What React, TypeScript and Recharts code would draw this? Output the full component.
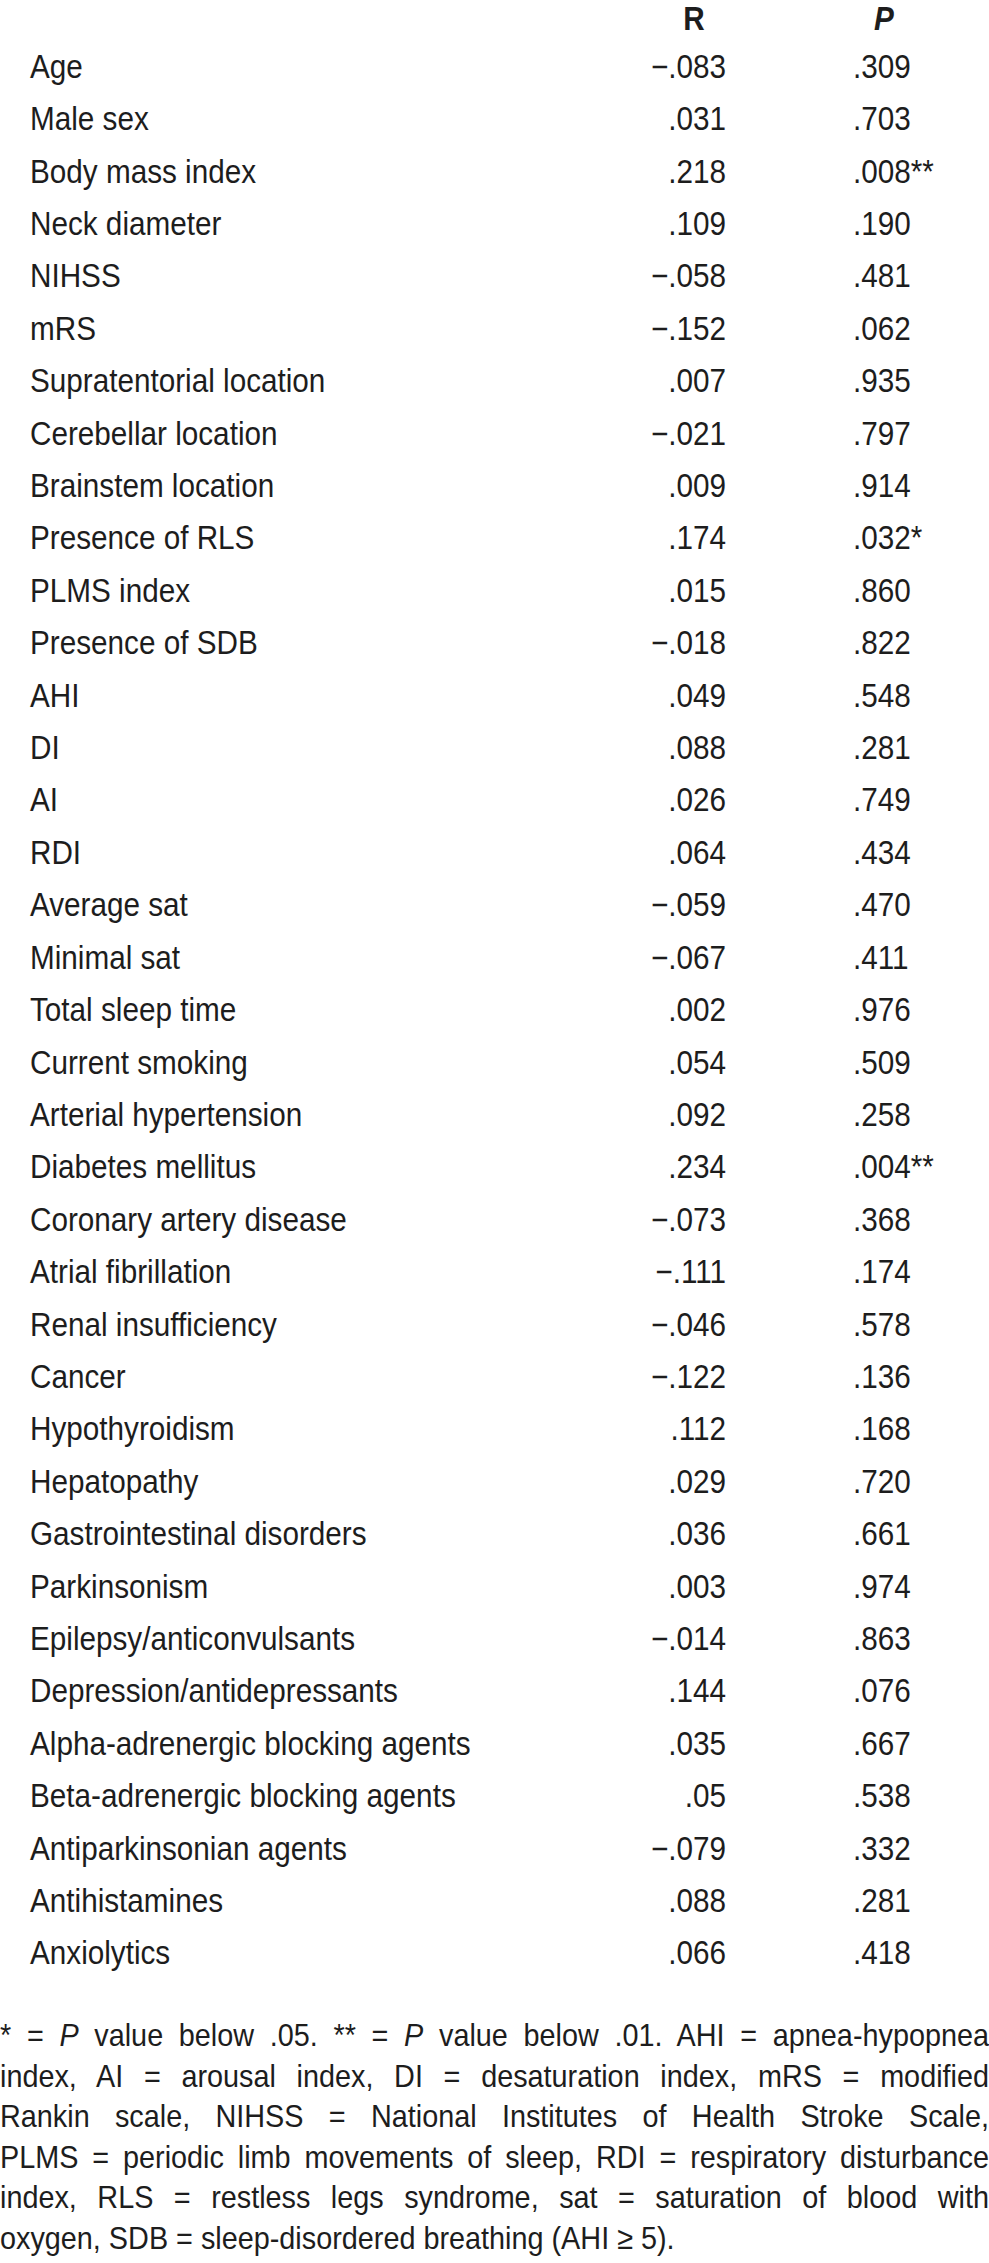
import { ComposedChart, Bar, XAxis, YAxis } from 'recharts';

// rows of the correlation table
const variables = [
  'Age',
  'Male sex',
  'Body mass index',
  'Neck diameter',
  'NIHSS',
  'mRS',
  'Supratentorial location',
  'Cerebellar location',
  'Brainstem location',
  'Presence of RLS',
  'PLMS index',
  'Presence of SDB',
  'AHI',
  'DI',
  'AI',
  'RDI',
  'Average sat',
  'Minimal sat',
  'Total sleep time',
  'Current smoking',
  'Arterial hypertension',
  'Diabetes mellitus',
  'Coronary artery disease',
  'Atrial fibrillation',
  'Renal insufficiency',
  'Cancer',
  'Hypothyroidism',
  'Hepatopathy',
  'Gastrointestinal disorders',
  'Parkinsonism',
  'Epilepsy/anticonvulsants',
  'Depression/antidepressants',
  'Alpha-adrenergic blocking agents',
  'Beta-adrenergic blocking agents',
  'Antiparkinsonian agents',
  'Antihistamines',
  'Anxiolytics',
];

const rValues = [
  -0.083, 0.031, 0.218, 0.109, -0.058, -0.152, 0.007, -0.021, 0.009, 0.174,
  0.015, -0.018, 0.049, 0.088, 0.026, 0.064, -0.059, -0.067, 0.002, 0.054,
  0.092, 0.234, -0.073, -0.111, -0.046, -0.122, 0.112, 0.029, 0.036, 0.003,
  -0.014, 0.144, 0.035, 0.05, -0.079, 0.088, 0.066,
];

const pValues = [
  0.309, 0.703, 0.008, 0.19, 0.481, 0.062, 0.935, 0.797, 0.914, 0.032, 0.86,
  0.822, 0.548, 0.281, 0.749, 0.434, 0.47, 0.411, 0.976, 0.509, 0.258, 0.004,
  0.368, 0.174, 0.578, 0.136, 0.168, 0.72, 0.661, 0.974, 0.863, 0.076, 0.667,
  0.538, 0.332, 0.281, 0.418,
];

const columnHeads = ['R', 'P'];

// _x_ marks italic text
const footnoteLines = [
  '* = _P_ value below .05. ** = _P_ value below .01. AHI = apnea-hypopnea',
  'index, AI = arousal index, DI = desaturation index, mRS = modified',
  'Rankin scale, NIHSS = National Institutes of Health Stroke Scale,',
  'PLMS = periodic limb movements of sleep, RDI = respiratory disturbance',
  'index, RLS = restless legs syndrome, sat = saturation of blood with',
  'oxygen, SDB = sleep-disordered breathing (AHI \u2265 5).',
];

const data = variables.map((name, i) => ({ name, r: rValues[i], p: pValues[i] }));

const FONT = "'Liberation Sans', Arial, Helvetica, sans-serif";
const SIZE = 33;
const SQUEEZE = 0.9;
const INK = '#1d1d1d';

const fmtR = (v: number) =>
  (v < 0 ? '\u2212' : '') + String(Math.abs(v)).replace(/^0/, '');

const fmtP = (v: number) =>
  v.toFixed(3).replace(/^0/, '') + (v < 0.01 ? '**' : v < 0.05 ? '*' : '');

function TableText(props: {
  x: number;
  y: number;
  anchor?: 'start' | 'middle' | 'end';
  bold?: boolean;
  italic?: boolean;
  children: string;
}) {
  const { x, y, anchor = 'start', bold, italic, children } = props;
  return (
    <text
      transform={`translate(${x} ${y}) scale(${SQUEEZE} 1)`}
      textAnchor={anchor}
      fontFamily={FONT}
      fontSize={SIZE}
      fontWeight={bold ? 'bold' : 'normal'}
      fontStyle={italic ? 'italic' : 'normal'}
      fill={INK}
    >
      {children}
    </text>
  );
}

function RowTick(props: any) {
  const { y, payload } = props;
  const i = variables.indexOf(payload?.value);
  if (i < 0) return <g />;
  const base = y + 11.6;
  return (
    <g>
      {i === 0 && (
        <>
          <TableText x={694} y={base - 48} anchor="middle" bold>
            {columnHeads[0]}
          </TableText>
          <TableText x={884} y={base - 48} anchor="middle" bold italic>
            {columnHeads[1]}
          </TableText>
        </>
      )}
      <TableText x={30} y={base}>
        {variables[i]}
      </TableText>
      <TableText x={726} y={base} anchor="end">
        {fmtR(rValues[i])}
      </TableText>
      <TableText x={853} y={base}>
        {fmtP(pValues[i])}
      </TableText>
    </g>
  );
}

function FootLine({ text }: { text: string }) {
  const parts = text.split('_');
  return (
    <>
      {parts.map((p, k) =>
        k % 2 === 1 ? <i key={k}>{p}</i> : <span key={k}>{p}</span>
      )}
    </>
  );
}

export default function App() {
  const last = footnoteLines.length - 1;
  return (
    <div style={{ position: 'relative', width: 989, height: 2263, background: '#fff' }}>
      <style>{'body{margin:0;background:#fff}'}</style>
      <ComposedChart
        width={989}
        height={1990}
        data={data}
        layout="vertical"
        margin={{ top: 40, right: 0, bottom: 11, left: 0 }}
      >
        <XAxis type="number" hide domain={[-1, 1]} />
        <YAxis
          type="category"
          dataKey="name"
          width={10}
          interval={0}
          axisLine={false}
          tickLine={false}
          tick={(p: any) => <RowTick {...p} />}
        />
        <Bar dataKey="r" fill="none" isAnimationActive={false} />
      </ComposedChart>
      <div
        style={{
          position: 'absolute',
          left: 0,
          top: 2015,
          width: 989 / SQUEEZE,
          transform: `scaleX(${SQUEEZE})`,
          transformOrigin: '0 0',
          fontFamily: FONT,
          fontSize: 32,
          lineHeight: '40.6px',
          color: INK,
        }}
      >
        {footnoteLines.map((line, i) => (
          <div
            key={i}
            style={{
              whiteSpace: 'nowrap',
              textAlign: i === last ? 'left' : 'justify',
              textAlignLast: i === last ? 'left' : 'justify',
            }}
          >
            <FootLine text={line} />
          </div>
        ))}
      </div>
    </div>
  );
}
